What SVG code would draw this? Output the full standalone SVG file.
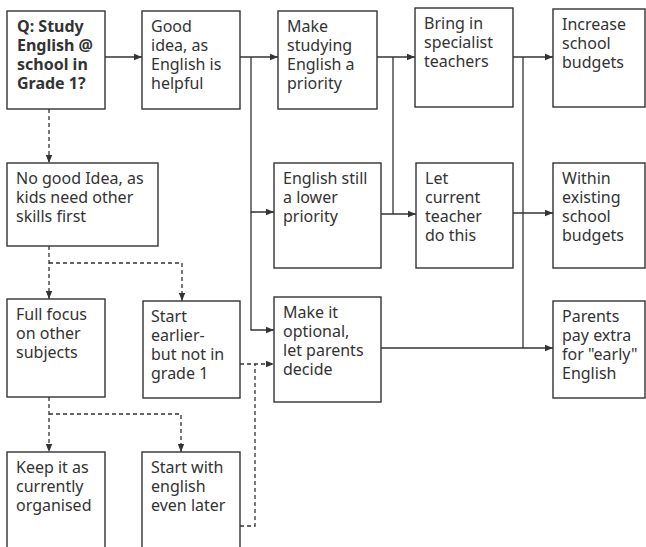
<svg xmlns="http://www.w3.org/2000/svg" width="646" height="547" viewBox="0 0 646 547">
<defs>
<style>
rect.box{fill:#fff;stroke:#333;stroke-width:1.4}
text{font-family:"Noto Sans","Open Sans",sans-serif;font-size:16px;fill:#333}
text.b{font-weight:bold}
.c{fill:none;stroke:#333;stroke-width:1.3}
.d{stroke-dasharray:4 3}
</style>
<marker id="ah" viewBox="0 0 8 8" refX="8" refY="4" markerWidth="8" markerHeight="8" markerUnits="userSpaceOnUse" orient="auto">
<path d="M0,0.8 L8,4 L0,7.2 Z" fill="#333"/>
</marker>
</defs>
<rect width="646" height="547" fill="#fff"/>
<g id="connectors">
<path class="c" d="M105,57 H142" marker-end="url(#ah)"/>
<path class="c" d="M240,57 H278" marker-end="url(#ah)"/>
<path class="c" d="M251,57 V212 H274" marker-end="url(#ah)"/>
<path class="c" d="M251,212 V330 H274" marker-end="url(#ah)"/>
<path class="c" d="M377,57 H415" marker-end="url(#ah)"/>
<path class="c" d="M393,57 V214"/>
<path class="c" d="M381,214 H416" marker-end="url(#ah)"/>
<path class="c" d="M513,57 H553" marker-end="url(#ah)"/>
<path class="c" d="M523,57 V348"/>
<path class="c" d="M513,213 H553" marker-end="url(#ah)"/>
<path class="c" d="M381,348 H553" marker-end="url(#ah)"/>
<path class="c d" d="M49,109 V163" marker-end="url(#ah)"/>
<path class="c d" d="M49,246 V299" marker-end="url(#ah)"/>
<path class="c d" d="M49,263 H182 V301" marker-end="url(#ah)"/>
<path class="c d" d="M49,397 V452" marker-end="url(#ah)"/>
<path class="c d" d="M49,414 H181 V452" marker-end="url(#ah)"/>
<path class="c d" d="M240,364 H274" marker-end="url(#ah)"/>
<path class="c d" d="M240,526 H255 V364"/>
</g>
<g id="n-q"><rect class="box" x="7" y="11" width="98" height="98"/>
<text class="b" x="17" y="32">Q: Study</text><text class="b" x="17" y="51">English @</text><text class="b" x="17" y="70">school in</text><text class="b" x="17" y="89">Grade 1?</text></g>
<g id="n-good"><rect class="box" x="142" y="11" width="98" height="98"/>
<text x="151" y="32">Good</text><text x="151" y="51">idea, as</text><text x="151" y="70">English is</text><text x="151" y="89">helpful</text></g>
<g id="n-make"><rect class="box" x="278" y="11" width="99" height="98"/>
<text x="287" y="32">Make</text><text x="287" y="51">studying</text><text x="287" y="70">English a</text><text x="287" y="89">priority</text></g>
<g id="n-bring"><rect class="box" x="415" y="8" width="98" height="99"/>
<text x="424" y="29">Bring in</text><text x="424" y="48">specialist</text><text x="424" y="67">teachers</text></g>
<g id="n-increase"><rect class="box" x="553" y="9" width="92" height="98"/>
<text x="562" y="30">Increase</text><text x="562" y="49">school</text><text x="562" y="68">budgets</text></g>
<g id="n-nogood"><rect class="box" x="7" y="163" width="151" height="83"/>
<text x="16" y="184">No good Idea, as</text><text x="16" y="203">kids need other</text><text x="16" y="222">skills first</text></g>
<g id="n-still"><rect class="box" x="274" y="163" width="107" height="105"/>
<text x="283" y="184">English still</text><text x="283" y="203">a lower</text><text x="283" y="222">priority</text></g>
<g id="n-let"><rect class="box" x="416" y="163" width="97" height="105"/>
<text x="425" y="184">Let</text><text x="425" y="203">current</text><text x="425" y="222">teacher</text><text x="425" y="241">do this</text></g>
<g id="n-within"><rect class="box" x="553" y="163" width="92" height="105"/>
<text x="562" y="184">Within</text><text x="562" y="203">existing</text><text x="562" y="222">school</text><text x="562" y="241">budgets</text></g>
<g id="n-full"><rect class="box" x="7" y="299" width="98" height="98"/>
<text x="16" y="320">Full focus</text><text x="16" y="339">on other</text><text x="16" y="358">subjects</text></g>
<g id="n-earlier"><rect class="box" x="143" y="301" width="97" height="97"/>
<text x="151" y="322">Start</text><text x="151" y="341">earlier-</text><text x="151" y="360">but not in</text><text x="151" y="379">grade 1</text></g>
<g id="n-optional"><rect class="box" x="274" y="297" width="107" height="105"/>
<text x="283" y="318">Make it</text><text x="283" y="337">optional,</text><text x="283" y="356">let parents</text><text x="283" y="375">decide</text></g>
<g id="n-parents"><rect class="box" x="553" y="301" width="92" height="97"/>
<text x="562" y="322">Parents</text><text x="562" y="341">pay extra</text><text x="562" y="360">for "early"</text><text x="562" y="379">English</text></g>
<g id="n-keep"><rect class="box" x="7" y="452" width="98" height="110"/>
<text x="16" y="473">Keep it as</text><text x="16" y="492">currently</text><text x="16" y="511">organised</text></g>
<g id="n-later"><rect class="box" x="142" y="452" width="98" height="110"/>
<text x="151" y="473">Start with</text><text x="151" y="492">english</text><text x="151" y="511">even later</text></g>
</svg>
